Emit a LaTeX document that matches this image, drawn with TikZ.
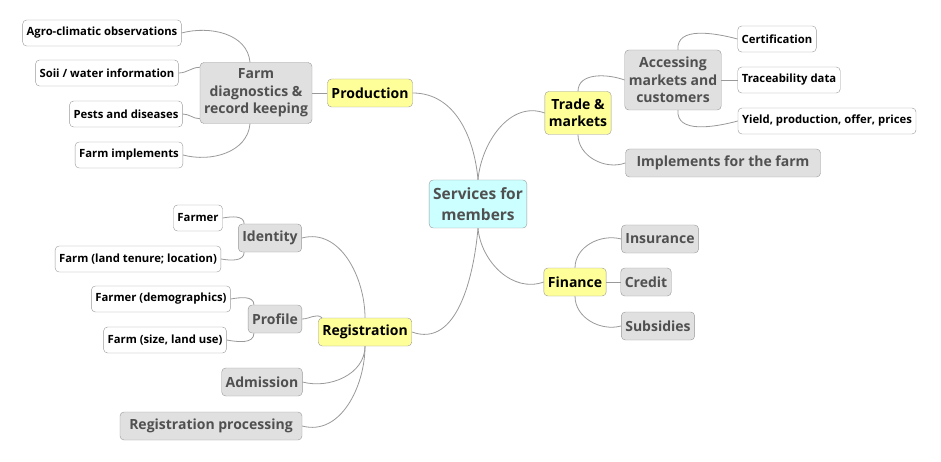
\documentclass[tikz,border=0pt]{standalone}
\usepackage{fontspec}
\setmainfont{Open Sans}
\definecolor{rootcyan}{HTML}{CCFFFF}
\definecolor{topicyellow}{HTML}{FFFF99}
\definecolor{subgray}{HTML}{E0E0E0}
\definecolor{edgegray}{HTML}{999999}
\definecolor{txtgray}{HTML}{505050}
\tikzset{
  base/.style = {draw=edgegray, rounded corners=4pt, inner xsep=4pt, inner ysep=1pt, align=center},
  root/.style = {base, fill=rootcyan, text=txtgray, font=\fontsize{15.5}{21}\selectfont\bfseries, minimum height=48pt},
  topic/.style = {base, fill=topicyellow, text=black, font=\fontsize{14}{17}\selectfont\bfseries, minimum height=28pt, inner ysep=4pt},
  sub/.style = {base, fill=subgray, text=txtgray, font=\fontsize{14}{17.5}\selectfont\bfseries, minimum height=28pt, inner ysep=4pt},
  leaf/.style = {base, fill=white, text=black, font=\fontsize{11.3}{13}\selectfont\bfseries, minimum height=26pt},
  link/.style = {draw=edgegray, line width=0.8pt}
}

\begin{document}
\begin{tikzpicture}[x=1pt,y=-1pt]
  \useasboundingbox (0,0) rectangle (941,462);
  \node[root] (root) at (478,204) {Services for\\members};

  \node[topic] (prod) at (370,93) {Production};
  \node[sub, minimum height=61pt, minimum width=112pt] (diag) at (256,93) {Farm\\diagnostics \&\\record keeping};
  \node[leaf] (agro) at (102,33) {Agro-climatic observations};
  \node[leaf] (soil) at (107,73) {Soii / water information};
  \node[leaf] (pest) at (126,114) {Pests and diseases};
  \node[leaf] (impl) at (129,155) {Farm implements};

  \node[topic, minimum height=43pt] (trade) at (578,113) {Trade \&\\markets};
  \node[sub, minimum height=60pt] (access) at (673,80) {Accessing\\markets and\\customers};
  \node[leaf] (cert) at (777,39) {Certification};
  \node[leaf] (trace) at (789,80) {Traceability data};
  \node[leaf] (yield) at (827,121) {Yield, production, offer, prices};
  \node[sub, minimum width=195pt] (tools) at (723,163) {Implements for the farm};

  \node[topic] (fin) at (575,282) {Finance};
  \node[sub] (insur) at (660,239) {Insurance};
  \node[sub] (credit) at (646,282) {Credit};
  \node[sub] (subsid) at (658,326) {Subsidies};

  \node[topic] (reg) at (365,332) {Registration};
  \node[sub] (ident) at (270,238) {Identity};
  \node[leaf] (farmer) at (198,218) {Farmer};
  \node[leaf] (tenure) at (138,259) {Farm (land tenure; location)};
  \node[sub] (prof) at (275,319) {Profile};
  \node[leaf] (demo) at (161,299) {Farmer (demographics)};
  \node[leaf] (size) at (165,340) {Farm (size, land use)};
  \node[sub] (admis) at (262,382) {Admission};
  \node[sub, minimum width=182pt] (proc) at (211,426) {Registration processing};

  % main branches
  \draw[link] (root.north) to[out=95,in=0] (prod.east);
  \draw[link] (root.north) to[out=85,in=160] (trade.west);
  \draw[link] (root.south) to[out=-85,in=200] (fin.west);
  \draw[link] (root.south) to[out=-95,in=-20] (reg.east);

  \draw[link] (prod.west) -- (diag.east);
  \draw[link] ([xshift=-6pt]diag.north) to[out=95,in=15] (agro.east);
  \draw[link] ([yshift=-5pt]diag.north west) to[out=180,in=0] (soil.east);
  \draw[link] ([yshift=5pt]diag.south west) to[out=180,in=0] (pest.east);
  \draw[link] ([xshift=-6pt]diag.south) to[out=-95,in=-15] (impl.east);

  \draw[link] (trade.north) to[out=90,in=160] (access.west);
  \draw[link] (trade.south) to[out=-90,in=200] (tools.west);
  \draw[link] ([xshift=5pt]access.north) to[out=95,in=165] (cert.west);
  \draw[link] (access.east) -- (trace.west);
  \draw[link] ([xshift=5pt]access.south) to[out=-95,in=195] (yield.west);

  \draw[link] (fin.north) to[out=90,in=165] (insur.west);
  \draw[link] (fin.east) -- (credit.west);
  \draw[link] (fin.south) to[out=-90,in=195] (subsid.west);

  \draw[link] (reg.north) to[out=90,in=15] (ident.east);
  \draw[link] ([xshift=4pt]reg.north west) to[out=140,in=0] (prof.east);
  \draw[link] (reg.south) to[out=-90,in=-15] (admis.east);
  \draw[link] (reg.south) to[out=-90,in=-15] (proc.east);

  \draw[link] ([xshift=6pt]ident.north west) to[out=90,in=10] (farmer.east);
  \draw[link] ([xshift=6pt]ident.south west) to[out=-90,in=-10] (tenure.east);
  \draw[link] ([xshift=6pt]prof.north west) to[out=90,in=10] (demo.east);
  \draw[link] ([xshift=6pt]prof.south west) to[out=-90,in=-10] (size.east);
\end{tikzpicture}
\end{document}
